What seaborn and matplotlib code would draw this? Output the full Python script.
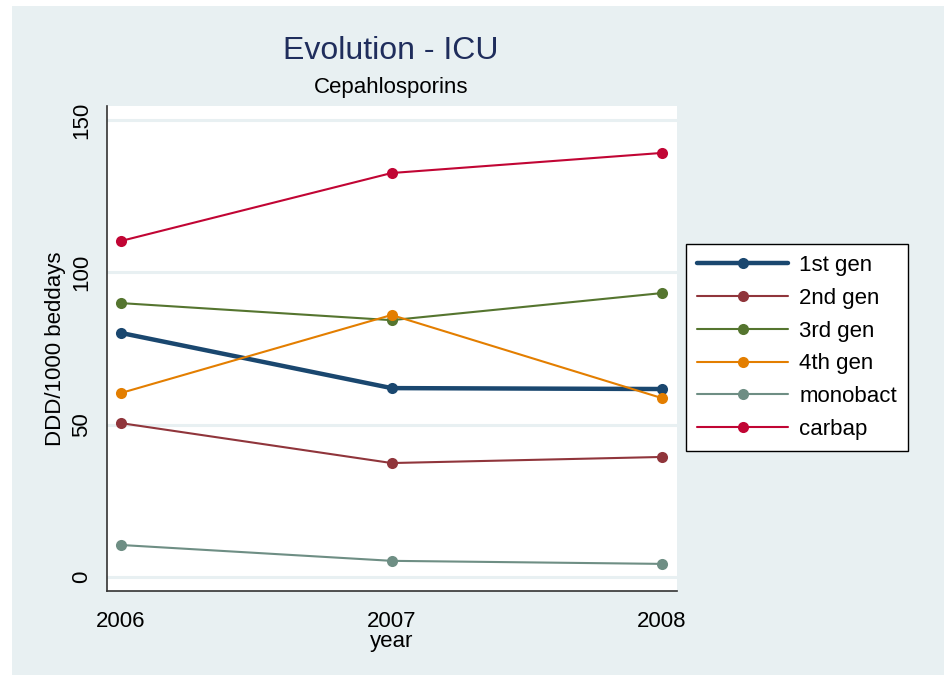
import numpy as np
import pandas as pd
import seaborn as sns
import matplotlib
matplotlib.use("Agg")
import matplotlib.pyplot as plt
from matplotlib.lines import Line2D
from matplotlib.patches import Rectangle

years = [2006, 2007, 2008]
series_names = ["1st gen", "2nd gen", "3rd gen", "4th gen", "monobact", "carbap"]
gen1 = [80.1, 62.0, 61.7]
gen2 = [50.5, 37.4, 39.4]
gen3 = [89.9, 84.3, 93.2]
gen4 = [60.4, 86.0, 58.7]
monobact = [10.5, 5.3, 4.3]
carbap = [110.3, 132.6, 139.2]
y_ticks = [0, 50, 100, 150]

values = [gen1, gen2, gen3, gen4, monobact, carbap]
colors = ["#1a476f", "#90353b", "#55752f", "#e37e00", "#6e8e84", "#c10534"]
widths = [3.2, 1.5, 1.5, 1.5, 1.5, 1.5]

rows = []
for name, vals in zip(series_names, values):
    for yr, v in zip(years, vals):
        rows.append({"year": yr, "value": v, "series": name})
df = pd.DataFrame(rows)

sns.set_style("white")
plt.rcParams["font.family"] = ["Liberation Sans", "DejaVu Sans"]
plt.rcParams["text.color"] = "black"
plt.rcParams["axes.labelcolor"] = "black"

W, H = 944, 676
fig = plt.figure(figsize=(W / 100, H / 100), dpi=100)
fig.patch.set_facecolor("white")
fig.patches.append(Rectangle((12 / W, 1 - 675 / H), (W - 12) / W, (675 - 6) / H,
                             transform=fig.transFigure, facecolor="#e8f0f2",
                             edgecolor="none", zorder=-10))

ax = fig.add_axes([107 / W, 1 - 591 / H, (677 - 107) / W, (591 - 106) / H])
ax.set_facecolor("white")

pal = dict(zip(series_names, colors))
sz = dict(zip(series_names, widths))
sns.lineplot(data=df, x="year", y="value", hue="series", size="series",
             hue_order=series_names, size_order=series_names,
             palette=pal, sizes=sz, marker="o", markersize=8,
             markeredgewidth=0, legend=False, ax=ax, zorder=3)

ax.set_xlim(2005.948, 2008.055)
ax.set_ylim(-4.6, 154.6)
ax.set_xticks(years)
ax.set_xticklabels([str(y) for y in years])
ax.set_yticks(y_ticks)
ax.set_yticklabels([str(t) for t in y_ticks], rotation=90, va="center")
ax.grid(axis="y", color="#e8f0f2", linewidth=2.2, zorder=0)
ax.set_axisbelow(True)

for s in ["top", "right"]:
    ax.spines[s].set_visible(False)
for s in ["left", "bottom"]:
    ax.spines[s].set_color("#333333")
    ax.spines[s].set_linewidth(1.2)

ax.tick_params(axis="both", direction="out", length=5.5, width=1.0,
               color="#333333", labelsize=16, labelcolor="black")
ax.tick_params(axis="y", pad=5)
ax.tick_params(axis="x", pad=9)

ax.set_xlabel("year", fontsize=16, labelpad=-1)
ax.set_ylabel("DDD/1000 beddays", fontsize=16, labelpad=4)

fig.text(391 / W, 1 - 51 / H, "Evolution - ICU", ha="center", va="center",
         fontsize=23, color="#1f2d5c")
fig.text(391 / W, 1 - 88 / H, "Cepahlosporins", ha="center", va="center",
         fontsize=16, color="black")

handles = [Line2D([0], [0], color=c, lw=w, marker="o", markersize=8,
                  markeredgewidth=0) for c, w in zip(colors, widths)]
leg = fig.legend(handles, series_names, loc="upper left",
                 bbox_to_anchor=(686 / W, 1 - 244 / H), borderaxespad=0,
                 fontsize=16, handlelength=4.1, handletextpad=0.5,
                 labelspacing=0.53, borderpad=0.5, frameon=True, fancybox=False)
leg.get_frame().set_edgecolor("black")
leg.get_frame().set_linewidth(1.0)
leg.get_frame().set_facecolor("white")
leg.get_frame().set_alpha(1)

fig.savefig("out.png", dpi=100, facecolor=fig.get_facecolor())
